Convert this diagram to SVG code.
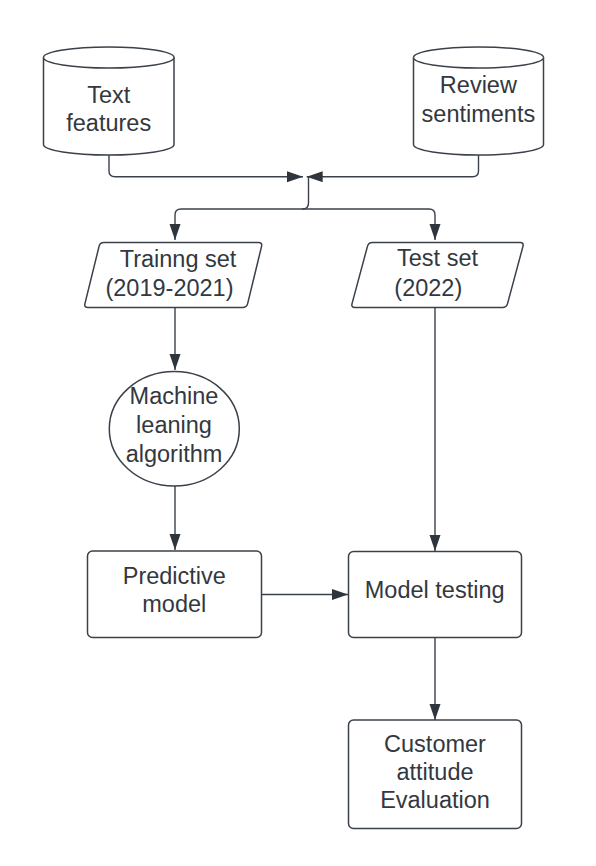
<svg xmlns="http://www.w3.org/2000/svg" width="596" height="866" viewBox="0 0 596 866">
<style>
.shape{fill:#ffffff;stroke:#3a414a;stroke-width:1.5;stroke-linejoin:round}
.line{fill:none;stroke:#3a414a;stroke-width:1.4}
.t{font-family:"Liberation Sans",Arial,sans-serif;font-size:23.5px;fill:#333840;text-anchor:middle}
</style>
<defs>
<marker id="ah" markerUnits="userSpaceOnUse" markerWidth="17" markerHeight="12" refX="16" refY="5.5" orient="auto">
<path d="M0,0 L16,5.5 L0,11 z" fill="#2f353d"/>
</marker>
</defs>
<rect width="596" height="866" fill="#ffffff"/>
<g id="connectors">
<path class="line" d="M109,155 V171 Q109,176.7 115,176.7 H303" marker-end="url(#ah)"/>
<path class="line" d="M478.5,155 V171 Q478.5,176.7 472.5,176.7 H306.7" marker-end="url(#ah)"/>
<path class="line" d="M308.5,176.7 V203 Q308.5,209 302.5,209 H181 Q175,209 175,215 V240" marker-end="url(#ah)"/>
<path class="line" d="M302,209 H429 Q435,209 435,215 V240" marker-end="url(#ah)"/>
<path class="line" d="M175,307.5 V370" marker-end="url(#ah)"/>
<path class="line" d="M175,486 V550" marker-end="url(#ah)"/>
<path class="line" d="M261.5,594.5 H348" marker-end="url(#ah)"/>
<path class="line" d="M435,307.5 V551" marker-end="url(#ah)"/>
<path class="line" d="M435,637.5 V720" marker-end="url(#ah)"/>
</g>
<g id="text-features">
<path class="shape" d="M43.5,57.5 A65.25,10.5 0 0 1 174,57.5 V144.5 A65.25,10.5 0 0 1 43.5,144.5 Z"/>
<path class="shape" d="M43.5,57.5 A65.25,10.5 0 0 0 174,57.5" fill="none"/>
<text class="t" x="108.7" y="102.7">Text</text>
<text class="t" x="108.7" y="130.7">features</text>
</g>
<g id="review-sentiments">
<path class="shape" d="M413.5,57.5 A65,10.5 0 0 1 543.5,57.5 V144.5 A65,10.5 0 0 1 413.5,144.5 Z"/>
<path class="shape" d="M413.5,57.5 A65,10.5 0 0 0 543.5,57.5" fill="none"/>
<text class="t" x="478.4" y="92.7">Review</text>
<text class="t" x="478.4" y="121.7">sentiments</text>
</g>
<g id="training-set">
<path class="shape" d="M104,242.5 H258.5 Q262.5,242.5 261.56,246.39 L247.64,303.61 Q246.7,307.5 242.7,307.5 H88 Q84,307.5 84.94,303.61 L99.06,246.39 Q100,242.5 104,242.5 Z"/>
<text class="t" x="178" y="266.8">Trainng set</text>
<text class="t" x="169.5" y="296.3">(2019-2021)</text>
</g>
<g id="test-set">
<path class="shape" d="M372.5,242.5 H520 Q524,242.5 522.96,246.36 L507.54,303.64 Q506.5,307.5 502.5,307.5 H355 Q351,307.5 352.04,303.64 L367.46,246.36 Q368.5,242.5 372.5,242.5 Z"/>
<text class="t" x="437.5" y="266.3">Test set</text>
<text class="t" x="428.3" y="295.5">(2022)</text>
</g>
<g id="ml-algorithm">
<ellipse class="shape" cx="174.3" cy="428.8" rx="65" ry="57.2"/>
<text class="t" x="174" y="404">Machine</text>
<text class="t" x="174" y="433">leaning</text>
<text class="t" x="174" y="461.7">algorithm</text>
</g>
<g id="predictive-model">
<rect class="shape" x="87.5" y="551" width="174" height="86.5" rx="5"/>
<text class="t" x="174.3" y="584">Predictive</text>
<text class="t" x="174.3" y="611.7">model</text>
</g>
<g id="model-testing">
<rect class="shape" x="348.5" y="551.5" width="173" height="86" rx="5"/>
<text class="t" x="434.7" y="598.2">Model testing</text>
</g>
<g id="customer-evaluation">
<rect class="shape" x="348.5" y="720" width="173" height="108.5" rx="5"/>
<text class="t" x="435" y="751.7">Customer</text>
<text class="t" x="435" y="780">attitude</text>
<text class="t" x="435" y="808.3">Evaluation</text>
</g>
</svg>
